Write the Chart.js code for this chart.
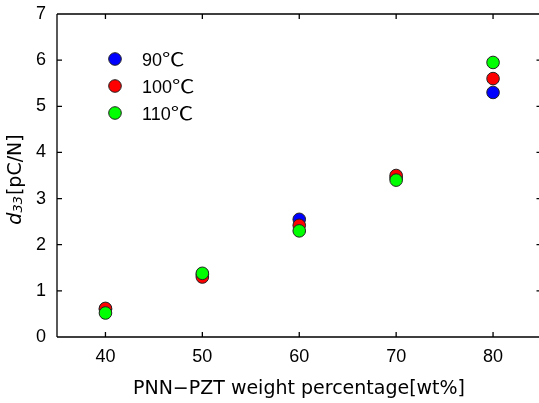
<!DOCTYPE html>
<html>
<head>
<meta charset="utf-8">
<script src="https://cdn.jsdelivr.net/npm/chart.js@4/dist/chart.umd.min.js"></script>
<style>
html,body{margin:0;padding:0;background:#fff;overflow:hidden;}
canvas{display:block;}
</style>
</head>
<body>
<canvas id="c" width="550" height="403" style="width:550px;height:403px"></canvas>
<script>
const weightPercent = [40, 50, 60, 70, 80];
const xTickLabels = ['40', '50', '60', '70', '80'];
const yTickLabels = ['0', '1', '2', '3', '4', '5', '6', '7'];
const seriesNames = ['90\u2103', '100\u2103', '110\u2103'];
const d33At90C  = [0.60, 1.35, 2.55, 3.45, 5.30];
const d33At100C = [0.62, 1.30, 2.42, 3.50, 5.60];
const d33At110C = [0.52, 1.38, 2.30, 3.40, 5.95];
const xTitle = 'PNN\u2212PZT weight percentage[wt%]';

const TICKFONT = '"Liberation Sans", "Noto Sans CJK JP", sans-serif';
const TITLEFONT = '"DejaVu Sans", "Noto Sans CJK JP", sans-serif';
const CJKFONT = '"Noto Sans CJK JP", sans-serif';
const colors = ['#0000ff', '#ff0000', '#00ff00'];

function pts(ys){ return weightPercent.map((x,i)=>({x:x, y:ys[i]})); }
function zeroPad(s){ s.paddingLeft = 0; s.paddingRight = 0; s.paddingTop = 0; s.paddingBottom = 0; }

const frame = {
  id:'frame',
  afterDraw(chart){
    const ctx = chart.ctx, a = chart.chartArea;
    const xs = chart.scales.x, ys = chart.scales.y;
    ctx.save();
    ctx.strokeStyle = '#000';
    ctx.lineWidth = 1.3;
    ctx.beginPath();
    ctx.moveTo(a.left, a.top); ctx.lineTo(a.right, a.top);
    ctx.moveTo(a.left, a.top); ctx.lineTo(a.left, a.bottom);
    ctx.moveTo(a.left, a.bottom); ctx.lineTo(a.right, a.bottom);
    ctx.moveTo(a.right, a.top); ctx.lineTo(a.right, a.bottom);
    const tl = 5;
    xs.ticks.forEach(t=>{
      const px = xs.getPixelForValue(t.value);
      ctx.moveTo(px, a.bottom); ctx.lineTo(px, a.bottom - tl);
      ctx.moveTo(px, a.top); ctx.lineTo(px, a.top + tl);
    });
    ys.ticks.forEach(t=>{
      const py = ys.getPixelForValue(t.value);
      ctx.moveTo(a.left, py); ctx.lineTo(a.left + tl, py);
      ctx.moveTo(a.right, py); ctx.lineTo(a.right - tl, py);
    });
    ctx.stroke();

    // legend
    ctx.textBaseline = 'alphabetic';
    ctx.textAlign = 'left';
    const ly = [59, 86, 113];
    chart.data.datasets.forEach((ds, i)=>{
      ctx.beginPath();
      ctx.arc(115, ly[i], 6.3, 0, Math.PI*2);
      ctx.fillStyle = ds.backgroundColor;
      ctx.fill();
      ctx.lineWidth = 1;
      ctx.strokeStyle = '#222';
      ctx.stroke();
      ctx.fillStyle = '#000';
      const num = ds.label.slice(0, -1), unit = ds.label.slice(-1);
      const base = ly[i] + 6.5;
      ctx.font = '18px ' + TICKFONT;
      ctx.fillText(num, 142, base);
      const wn = ctx.measureText(num).width;
      ctx.save();
      ctx.translate(142 + wn, base);
      ctx.scale(1.25, 1);
      ctx.font = '18px ' + CJKFONT;
      ctx.fillText(unit, 0, 0);
      ctx.restore();
    });

    // x title
    ctx.textBaseline = 'middle';
    ctx.font = '19px ' + TITLEFONT;
    ctx.textAlign = 'center';
    ctx.fillStyle = '#000';
    ctx.fillText(xTitle, 299, 389);

    // y title
    ctx.translate(16, 180);
    ctx.rotate(-Math.PI/2);
    const p1 = 'd', p2 = '33', p3 = '[pC/N]';
    ctx.font = 'italic 19px ' + TITLEFONT;
    const w1 = ctx.measureText(p1).width;
    ctx.font = 'italic 13px ' + TITLEFONT;
    const w2 = ctx.measureText(p2).width;
    ctx.font = '19px ' + TITLEFONT;
    const w3 = ctx.measureText(p3).width;
    let x0 = -(w1 + w2 + w3)/2;
    ctx.textAlign = 'left';
    ctx.font = 'italic 19px ' + TITLEFONT;
    ctx.fillText(p1, x0, 0);
    ctx.font = 'italic 13px ' + TITLEFONT;
    ctx.fillText(p2, x0 + w1, 3);
    ctx.font = '19px ' + TITLEFONT;
    ctx.fillText(p3, x0 + w1 + w2 + 1, 0);
    ctx.restore();
  }
};

new Chart(document.getElementById('c'), {
  type: 'scatter',
  data: {
    datasets: [
      {label: seriesNames[0], data: pts(d33At90C),  backgroundColor: colors[0], order: 2},
      {label: seriesNames[1], data: pts(d33At100C), backgroundColor: colors[1], order: 1},
      {label: seriesNames[2], data: pts(d33At110C), backgroundColor: colors[2], order: 0}
    ].map(d=>Object.assign(d, {borderColor:'#222', borderWidth:1, pointRadius:6.3, pointHoverRadius:6.3}))
  },
  options: {
    responsive: false,
    maintainAspectRatio: false,
    animation: false,
    events: [],
    layout: {padding: {top: 14, right: 8.5, left: 0, bottom: 0}},
    plugins: {legend: {display: false}, tooltip: {enabled: false}},
    scales: {
      x: {
        type: 'linear', min: 35, max: 85,
        afterBuildTicks: s => { s.ticks = weightPercent.map(v=>({value:v})); },
        afterFit: s => { s.height = 66; zeroPad(s); },
        grid: {display: true, drawOnChartArea: false, drawTicks: false, color: 'rgba(0,0,0,0)'},
        border: {display: false},
        ticks: {padding: 9, color: '#000', font: {family: TICKFONT, size: 18},
                callback: (v) => xTickLabels[weightPercent.indexOf(v)] ?? ''}
      },
      y: {
        type: 'linear', min: 0, max: 7,
        afterBuildTicks: s => { s.ticks = yTickLabels.map(v=>({value:+v})); },
        afterFit: s => { s.width = 57; zeroPad(s); },
        grid: {display: true, drawOnChartArea: false, drawTicks: false, color: 'rgba(0,0,0,0)'},
        border: {display: false},
        ticks: {padding: 11, color: '#000', font: {family: TICKFONT, size: 18},
                callback: (v) => yTickLabels[v] ?? ''}
      }
    }
  },
  plugins: [frame]
});
</script>
</body>
</html>
